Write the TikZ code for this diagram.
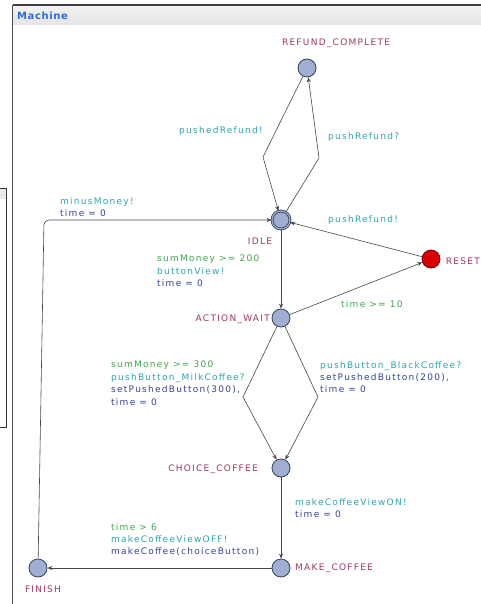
\documentclass[tikz,border=0pt]{standalone}
\usepackage{fontspec}
\setmainfont{DejaVu Sans}
\newfontfamily\uppfont[LetterSpace=14]{DejaVu Sans}
\newfontfamily\titlefont[LetterSpace=6]{DejaVu Sans}
\usetikzlibrary{arrows.meta}
\definecolor{locname}{HTML}{9E3566}
\definecolor{grd}{HTML}{3FA64A}
\definecolor{syn}{HTML}{2EA6AE}
\definecolor{upd}{HTML}{36449A}
\definecolor{locfill}{HTML}{9FAED2}
\definecolor{locedge}{HTML}{34405C}
\definecolor{edgecol}{HTML}{474747}
\definecolor{titlecol}{HTML}{2D6FD0}
\tikzset{
  loc/.style={circle, draw=locedge, fill=locfill, line width=0.8pt, minimum size=18pt, inner sep=0pt},
  initloc/.style={loc, double=locfill, double distance=1.2pt},
  resetloc/.style={loc, fill=red!85!black, draw=red!45!black},
  lname/.style={text=locname, font=\uppfont\fontsize{9}{10}\selectfont, inner sep=0pt},
  lab/.style={anchor=north west, align=left, inner sep=0pt, font=\uppfont\fontsize{9}{12.4}\selectfont},
  tr/.style={draw=edgecol, line width=0.6pt, -{Stealth[length=5pt,width=4pt]}}
}
\begin{document}
\begin{tikzpicture}[x=1pt,y=-1pt]
\useasboundingbox (0,0) rectangle (481,604);
\fill[white] (0,0) rectangle (481,604);
% window frame and title bar
\shade[top color=gray!10, bottom color=gray!22] (13,6) rectangle (481,25);
\draw[gray!15, line width=1pt] (13,22.5) -- (481,22.5);
\draw[black!75, line width=1.2pt] (12.5,5) -- (481,5);
\draw[black!70, line width=1pt] (12.5,5) -- (12.5,604);
\node[anchor=west, inner sep=0pt, text=titlecol, font=\titlefont\fontsize{10}{11}\selectfont\bfseries] (title) at (17,16) {Machine};
% partly hidden window at the left edge
\fill[gray!18] (0,188) rectangle (6,199);
\draw[black!80, line width=0.8pt] (-1,188) -- (6,188) -- (6,427) -- (-1,427);

% locations
\node[loc] (rc) at (307,68) {};
\node[initloc] (idle) at (281,220) {};
\node[resetloc] (reset) at (431,259) {};
\node[loc] (aw) at (281,318) {};
\node[loc] (cc) at (281,468) {};
\node[loc] (mc) at (281,568) {};
\node[loc] (fin) at (38,568) {};

% location names
\node[lname] (rcn) at (336,43) {REFUND\_COMPLETE};
\node[lname] (idlen) at (260,241) {IDLE};
\node[lname, anchor=east] (resetn) at (480,261) {RESET};
\node[lname, anchor=east] (awn) at (270,319) {ACTION\_WAIT};
\node[lname, anchor=east] (ccn) at (258,469) {CHOICE\_COFFEE};
\node[lname, anchor=west] (mcn) at (295,568) {MAKE\_COFFEE};
\node[lname] (finn) at (43,589) {FINISH};

% transitions
\draw[tr] (rc) -- (263,157) -- (idle);
\draw[tr] (idle) -- (319,158) -- (rc);
\draw[tr] (reset) -- (idle);
\draw[tr] (aw) -- (reset);
\draw[tr] (idle) -- (aw);
\draw[tr] (aw) -- (243,397) -- (cc);
\draw[tr] (aw) -- (318,397) -- (cc);
\draw[tr] (cc) -- (mc);
\draw[tr] (mc) -- (fin);
\draw[tr, rounded corners=5pt] (fin) -- (44,220) -- (idle);

% transition labels
\node[lab] (l1) at (179,126) {\color{syn}pushedRefund!};
\node[lab] (l2) at (328,132) {\color{syn}pushRefund?};
\node[lab] (l3) at (60,197) {\color{syn}minusMoney!\\\color{upd}time = 0};
\node[lab] (l4) at (328,215) {\color{syn}pushRefund!};
\node[lab] (l5) at (157,255) {\color{grd}sumMoney >= 200\\\color{syn}buttonView!\\\color{upd}time = 0};
\node[lab] (l6) at (341,300) {\color{grd}time >= 10};
\node[lab] (l7) at (111,361) {\color{grd}sumMoney >= 300\\\color{syn}pushButton\_MilkCoffee?\\\color{upd}setPushedButton(300),\\\color{upd}time = 0};
\node[lab] (l8) at (320,361) {\color{syn}pushButton\_BlackCoffee?\\\color{upd}setPushedButton(200),\\\color{upd}time = 0};
\node[lab] (l9) at (295,498) {\color{syn}makeCoffeeViewON!\\\color{upd}time = 0};
\node[lab] (l10) at (111,523) {\color{grd}time > 6\\\color{syn}makeCoffeeViewOFF!\\\color{upd}makeCoffee(choiceButton)};
\end{tikzpicture}
\end{document}
